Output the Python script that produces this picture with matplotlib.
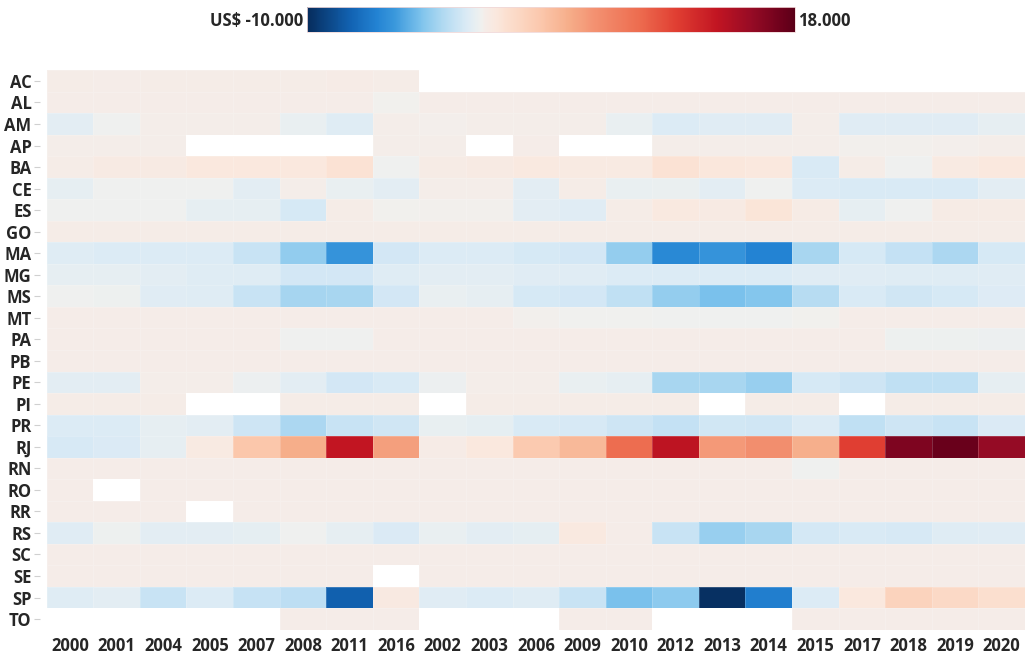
import numpy as np
import matplotlib
matplotlib.use("Agg")
import matplotlib.pyplot as plt
from matplotlib.colors import LinearSegmentedColormap, Normalize

nan = np.nan

years = ["2000", "2001", "2004", "2005", "2007", "2008", "2011", "2016",
         "2002", "2003", "2006", "2009", "2010", "2012", "2013", "2014",
         "2015", "2017", "2018", "2019", "2020"]

states = ["AC", "AL", "AM", "AP", "BA", "CE", "ES", "GO", "MA", "MG", "MS",
          "MT", "PA", "PB", "PE", "PI", "PR", "RJ", "RN", "RO", "RR", "RS",
          "SC", "SE", "SP", "TO"]

# Trade balance per state (US$), one list per state, columns follow `years`
AC = [300, 250, 300, 300, 300, 300, 350, 300, nan, nan, nan, nan, nan, nan, nan, nan, nan, nan, nan, nan, nan]
AL = [250, 250, 250, 250, 250, 250, 250, 50, 250, 250, 250, 250, 250, 250, 250, 250, 250, 250, 250, 250, 250]
AM = [-500, -100, 200, 200, 200, -300, -700, 200, 150, 200, 200, 200, -300, -800, -600, -600, 200, -600, -600, -600, -400]
AP = [200, 200, 200, nan, nan, nan, nan, 200, 200, nan, 250, nan, nan, 200, 200, 200, 200, 100, 100, 150, 200]
BA = [300, 500, 500, 800, 800, 800, 1300, -100, 400, 500, 700, 600, 600, 1300, 900, 800, -900, 300, -100, 600, 800]
CE = [-400, -100, -100, -100, -500, 200, -300, -500, 200, 200, -500, 300, -300, -250, -500, -100, -800, -900, -900, -900, -500]
ES = [-50, -50, -50, -400, -400, -1000, 300, 50, 100, 100, -500, -600, 300, 700, 500, 1100, 400, -400, -50, 400, 400]
GO = [300, 300, 300, 300, 300, 300, 300, 300, 300, 300, 300, 300, 300, 300, 300, 300, 300, 300, 300, 300, 300]
MA = [-700, -800, -800, -800, -1500, -3000, -5200, -1100, -800, -800, -1000, -1100, -2900, -5700, -5200, -6000, -2400, -1000, -1600, -2300, -1000]
MG = [-400, -400, -500, -700, -700, -1100, -1100, -700, -500, -500, -600, -600, -800, -800, -800, -800, -600, -600, -700, -700, -600]
MS = [-100, -150, -600, -700, -1500, -2500, -2400, -1100, -300, -400, -1000, -1100, -1700, -2900, -3500, -3300, -2000, -900, -1200, -1000, -750]
MT = [250, 250, 250, 250, 250, 250, 250, 250, 250, 250, 100, 0, 0, -50, -50, -50, 50, 250, 250, 250, 250]
PA = [250, 250, 250, 250, 250, -50, -50, 250, 250, 250, 250, 250, 250, 250, 250, 250, 250, 250, -150, -150, -200]
PB = [250, 250, 250, 250, 250, 250, 250, 250, 250, 250, 250, 250, 250, 250, 250, 250, 250, 250, 250, 250, 250]
PE = [-500, -500, 200, 200, -200, -500, -1100, -900, -200, 200, 200, -300, -400, -2400, -2400, -2800, -1000, -1300, -1700, -1700, -400]
PI = [300, 300, 300, nan, nan, 300, 300, 300, nan, 300, 300, 300, 300, 300, nan, 300, 300, nan, 300, 300, 300]
PR = [-800, -800, -400, -500, -1300, -2300, -1500, -1200, -350, -450, -900, -950, -1300, -1600, -1150, -1200, -800, -1700, -1300, -1500, -850]
RJ = [-950, -850, -400, 600, 3400, 5000, 13500, 5800, 350, 800, 3200, 4300, 9000, 13700, 6100, 6700, 4900, 11200, 16500, 17400, 15500]
RN = [250, 250, 250, 250, 250, 250, 250, 250, 250, 250, 250, 250, 250, 250, 250, 250, -50, 250, 250, 250, 250]
RO = [250, nan, 250, 250, 250, 250, 250, 250, 250, 250, 250, 250, 250, 250, 250, 250, 250, 250, 250, 250, 250]
RR = [250, 250, 250, nan, 250, 250, 250, 250, 250, 250, 250, 250, 250, 250, 250, 250, 250, 250, 250, 250, 250]
RS = [-600, -150, -500, -500, -450, -80, -400, -850, -300, -500, -450, 700, 250, -1500, -2800, -2400, -1050, -900, -950, -650, -600]
SC = [250, 250, 250, 250, 250, 250, 250, 250, 250, 250, 250, 250, 250, 250, 250, 250, 250, 250, 250, 250, 250]
SE = [250, 250, 250, 250, 250, 250, 250, nan, 250, 250, 250, 250, 250, 250, 250, 250, 250, 250, 250, 250, 250]
SP = [-650, -500, -1500, -800, -1550, -1800, -7600, 650, -600, -800, -700, -1500, -3500, -3100, -9800, -6200, -800, 800, 2500, 2000, 1500]
TO = [nan, nan, nan, nan, nan, 250, 250, 250, nan, nan, nan, 250, 250, nan, nan, nan, 250, 250, 250, 250, 250]

vmin, vmax = -10000, 18000

values = np.array([AC, AL, AM, AP, BA, CE, ES, GO, MA, MG, MS, MT, PA, PB,
                   PE, PI, PR, RJ, RN, RO, RR, RS, SC, SE, SP, TO], dtype=float)

# Diverging scale: white sits at zero, blues below, reds above
stops = [
    (-10000, "#062c5c"), (-7500, "#1263b3"), (-6000, "#2383d3"),
    (-5000, "#3a98dc"), (-3500, "#7cc2ec"), (-2500, "#a6d5f0"),
    (-1500, "#c8e3f4"), (-800, "#dcebf5"), (-300, "#e9eff1"),
    (0, "#f1f0ee"), (250, "#f5ece8"), (800, "#fae8de"),
    (1500, "#fbdfcf"), (2500, "#fbd3bd"), (3400, "#fbc7ac"),
    (5000, "#f6ae8a"), (6500, "#f39171"), (9000, "#ed6d50"),
    (11200, "#e03e32"), (13500, "#c21522"), (15500, "#960b25"),
    (17400, "#6a001b"), (18000, "#5a0018"),
]
cmap = LinearSegmentedColormap.from_list(
    "balance", [((v - vmin) / (vmax - vmin), c) for v, c in stops], N=512)
cmap.set_bad("white")
norm = Normalize(vmin=vmin, vmax=vmax)

font = "Open Sans"
label_color = "#262626"

fig = plt.figure(figsize=(10.25, 6.59), dpi=100)
ax = fig.add_axes([0.0456, 0.0443, 0.9544, 0.8492])
for side, spine in ax.spines.items():
    spine.set_visible(False)
ax.spines["left"].set_position(("outward", 5))

masked = np.ma.masked_invalid(values)
mesh = ax.pcolormesh(masked, cmap=cmap, norm=norm,
                     edgecolors=(1, 1, 1, 0.18), linewidth=0.4)
ax.set_xlim(0, len(years))
ax.set_ylim(len(states), 0)

ax.set_xticks(np.arange(len(years)) + 0.5)
ax.set_xticklabels(years, fontfamily=font, fontweight="bold",
                   fontsize=12, color=label_color)
ax.set_yticks(np.arange(len(states)) + 0.5)
ax.set_yticklabels(states, fontfamily=font, fontweight="bold",
                   fontsize=12, color=label_color)
ax.tick_params(axis="x", length=0, pad=5)
ax.tick_params(axis="y", length=4, width=0.8, color="#d0d0d0", pad=2)

# Colour legend across the top
cax = fig.add_axes([0.2995, 0.9514, 0.4765, 0.0380])
cb = fig.colorbar(mesh, cax=cax, orientation="horizontal")
cb.set_ticks([])
cb.outline.set_edgecolor("#f0d8d8")
cb.outline.set_linewidth(0.6)
fig.text(0.2960, 0.968, "US$ -10.000", ha="right", va="center",
         fontfamily=font, fontweight="bold", fontsize=12, color=label_color)
fig.text(0.7790, 0.968, "18.000", ha="left", va="center",
         fontfamily=font, fontweight="bold", fontsize=12, color=label_color)

fig.savefig("out.png", dpi=100, facecolor="white")
